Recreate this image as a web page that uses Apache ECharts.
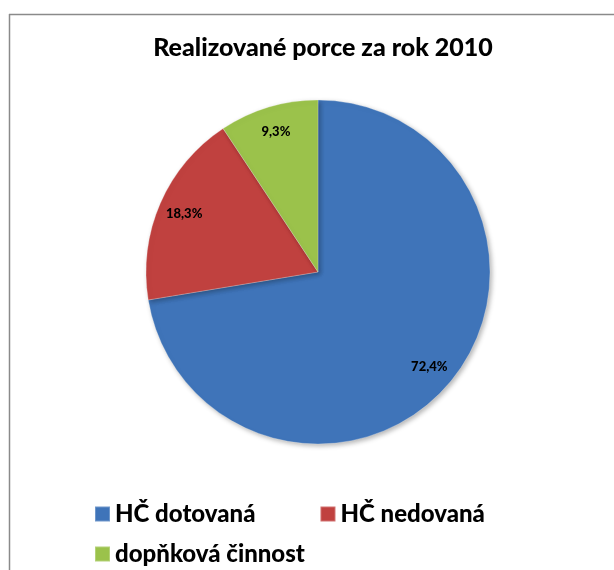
<!DOCTYPE html>
<html>
<head>
<meta charset="utf-8">
<script src="https://cdn.jsdelivr.net/npm/echarts@6/dist/echarts.min.js"></script>
<style>
html, body { margin: 0; padding: 0; background: #fff; }
#main { width: 614px; height: 570px; }
</style>
</head>
<body>
<div id="main"></div>
<script>
// data
var categories = ['HČ dotovaná', 'HČ nedovaná', 'dopňková činnost'];
var values = [72.4, 18.3, 9.3];

var myChart = echarts.init(document.getElementById('main'));

var legendText = {fontFamily: 'Lato', fontWeight: 900, fontSize: 24, color: '#000'};

var option = {
    color: ['#3f74b9', '#c0413f', '#9bc24b'],
    title: {
        text: 'Realizované porce za rok 2010',
        left: 318,
        textAlign: 'center',
        top: 30,
        textStyle: {fontFamily: 'Lato', fontWeight: 900, fontSize: 25, color: '#000'}
    },
    legend: [
        {
            left: 89,
            top: 497,
            itemWidth: 15,
            itemHeight: 15,
            itemGap: 64,
            icon: 'rect',
            data: categories.slice(0, 2),
            textStyle: legendText
        },
        {
            left: 89,
            top: 537,
            itemWidth: 15,
            itemHeight: 15,
            icon: 'rect',
            data: categories.slice(2),
            textStyle: legendText
        }
    ],
    graphic: [
        {type: 'line', shape: {x1: 9, y1: 14.5, x2: 614, y2: 14.5}, style: {stroke: '#8a8a8a', lineWidth: 1.5}},
        {type: 'line', shape: {x1: 9.5, y1: 14, x2: 9.5, y2: 570}, style: {stroke: '#8a8a8a', lineWidth: 1.5}}
    ],
    series: [
        {
            name: 'porce',
            type: 'pie',
            center: [318, 272],
            radius: [0, 172],
            startAngle: 90,
            clockwise: true,
            label: {show: false},
            labelLine: {show: false},
            itemStyle: {
                borderColor: 'rgba(255,255,255,0.25)',
                borderWidth: 1,
                shadowBlur: 5,
                shadowOffsetX: 2,
                shadowOffsetY: 2,
                shadowColor: 'rgba(0,0,0,0.3)'
            },
            emphasis: {disabled: true},
            data: categories.map(function (name, i) { return {name: name, value: values[i]}; })
        },
        {
            name: 'labels',
            type: 'pie',
            center: [318, 272],
            radius: [114, 172],
            startAngle: 90,
            clockwise: true,
            silent: true,
            legendHoverLink: false,
            itemStyle: {color: 'transparent'},
            label: {
                show: true,
                position: 'inside',
                formatter: function (p) { return p.value.toFixed(1).replace('.', ',') + '%'; },
                fontFamily: 'Lato',
                fontWeight: 900,
                fontSize: 13,
                color: '#000'
            },
            labelLine: {show: false},
            emphasis: {disabled: true},
            data: categories.map(function (name, i) { return {name: name, value: values[i]}; })
        }
    ]
};

myChart.setOption(option);
</script>
</body>
</html>
